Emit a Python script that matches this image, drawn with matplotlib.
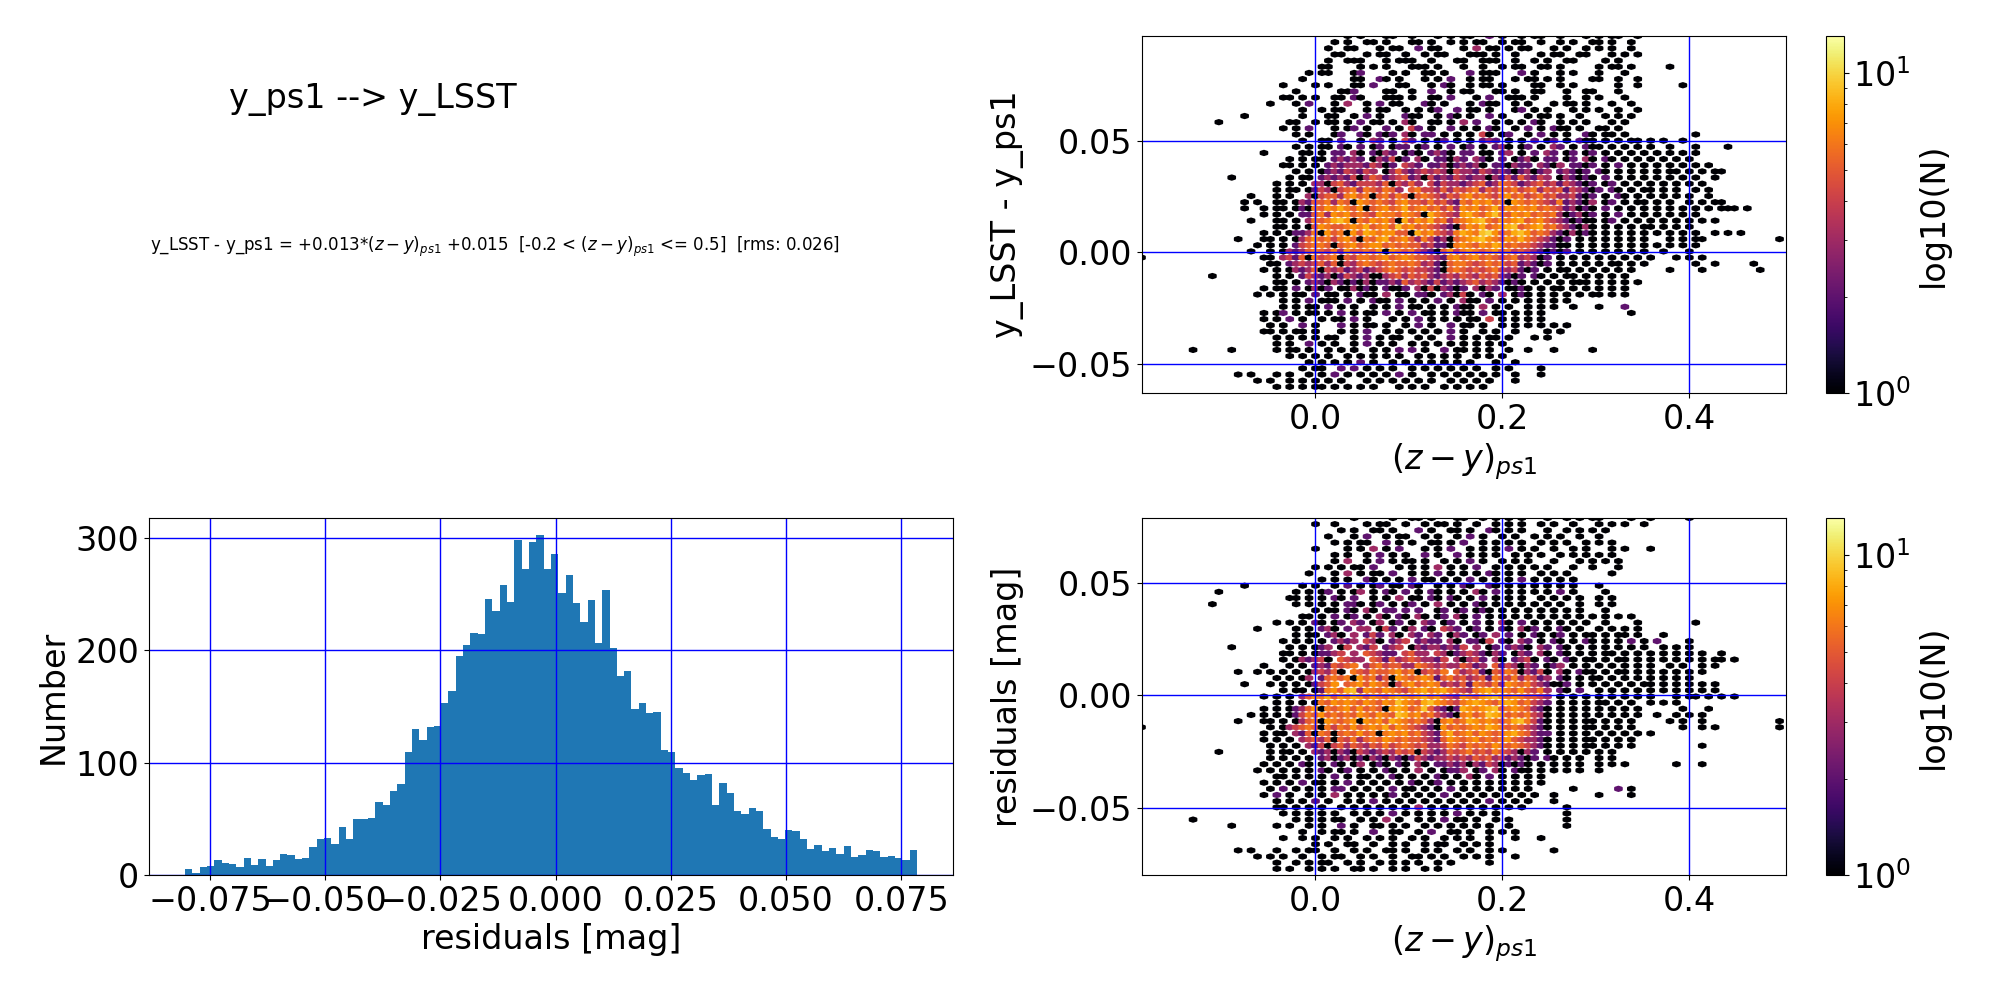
import numpy as np
import matplotlib
matplotlib.use('Agg')
import matplotlib.pyplot as plt

# histogram of residuals
hist_counts = [5, 2, 7, 8, 13, 11, 10, 7, 15, 9, 14, 8, 13, 19, 18, 14, 15, 25, 32, 33,
               28, 43, 32, 50, 50, 51, 65, 62, 75, 81, 110, 130, 120, 132, 133, 153, 164, 195, 205, 216,
               215, 246, 235, 258, 243, 298, 273, 297, 303, 273, 286, 251, 267, 242, 225, 245, 207, 254, 202, 177,
               182, 148, 153, 144, 145, 111, 110, 95, 91, 85, 89, 90, 62, 82, 73, 57, 54, 60, 57, 41,
               34, 32, 40, 39, 32, 23, 27, 21, 24, 19, 26, 16, 18, 22, 21, 16, 17, 15, 13, 22]
hist_lo, hist_hi = -0.0804, 0.0784

# hex cells as estimated by eye, one string per lattice row from the top, blocks of ten columns,
# '.' is empty, hex digit is N
top_rows = [
    ".......... .......... .......... ..1.1...11 ..1...1.1. 11..2.1..1 .11..1...1 .1.11..1..",
    ".......... .......... .......... 1.1..11.1. ..11.1..1. 1.11..1.11 ..1..1.1.. 11.1..1...",
    ".......... .......... .........1 ..11...1.1 1..2.11... 1.3.11.1.1 1...1.1..1 .1.1..1...",
    ".......... .......... .......... 11...1.11. .1..1.11.. .111.1..1. ..1.11..11 ...1.1.1..",
    ".......... .......... .........1 ..111...1. 111..1...1 1..111..1. .1.1..11.. ..1.1.....",
    ".......... .......... ........11 ....1.1.1. ..111.1... 1..1..1.11 ..11.1.... .1.11.1... ..1",
    ".......... .......... ......1.11 ...12....1 .1..11.1.. .2.111...2 .1...1.1.. .1...1....",
    ".......... .......... .....1.... ...11..21. 1...1.1.2. .1.11...1. 11.1.1.... 11..1..1..",
    ".......... .......... ..1....1.1 ...11.2... 11...1.21. .1.11.1... .11..1.1.. ....1..1.. ....1",
    ".......... .......... ....1..... .112....11 ..1..2..1. 11...11.1. .11...1..1 1...1.....",
    ".......... .......... ..11.1.1.. 11.21...11 1.1..11.2. ..1.2..111 .1....1..1 .1...1....",
    ".......... .......... 1...1.2... 1.3..1.2.1 1...21.1.. .1.211..1. 1...1.11.1 ...1..1...",
    ".......... .......... .....1..1. 11...1.11. .1.1.12..2 .11.1...12 .1.1...1.1 .1..1..1..",
    ".......... ......1... .....1...1 1..1.2.1.. .211..1.21 .1..2.1... 1.11.1..1. ..1.1.1...",
    ".......... ..1....... ...11..1.1 1.1.2.11.1 .31..11.1. 3.2..1.1.1 .21..1.1.1 ...1.1....",
    ".......... .......... ..1.1.2... 1.12.1..2. 1.42.1..2. 1.1.21..1. 2.1.211.1. .11.1.....",
    ".......... .......... ....1.1... 12..21.212 .31.22.1.1 .1.41.12.. 1.2.1.1..2 1.11.1.... ......1",
    ".......... .......... .....1..11 .2..1.32.1 .42.1.12.1 .1.232.1.1 .2.12.1.21 1.1.1.11.1 .1..1.....",
    ".......... .......... ....1.1.11 .21.2.12.1 22.12.1.2. 12.1.231.1 2.1.32.1.2 11.1.1.1.1 ..1...1... .1",
    ".......... .........1 .....11.1. 22.31.2132 .121.2321. 22.11.23.1 .2.32.12.1 2.1.1.1.1. 1.1.1.1...",
    ".......... .......... ...1.1.11. 23232.1324 12.31.2213 2.321.2.12 31.22.12.3 1.21.1.1.1 .1.1.1....",
    ".......... .......... ..11.1.1.2 3233324312 .432.22312 3231.22132 2.3213.221 2.1.2.1.1. 1.1.1.1.1.",
    ".......... .......... ....1.1.12 3243243.13 5323434314 3324323212 3123.23212 .21.1.1.1. 1.11.1.1.1 1",
    ".......... ....1..... ...1.11.23 2324135423 4523142324 3233132425 3243.13212 1.2.1.1.1. 1.1.1.1..1",
    ".......... .......... .1.1.1.331 4532444351 4353.42433 2345236542 3453424321 2.12.1.1.1 .1.1.1.1..",
    ".......... .......... .1.11.1243 1456365465 3.56443535 4563546564 5635452432 12.21.1.11 .1.1..1.1.",
    ".......... .......1.. .1.1..3145 5367561564 6515654354 6756546756 4564533421 2.1.21.1.1 .1.1.1..1.",
    ".......... ......1.1. .11.132556 3651765654 6755464532 6576756176 5654362321 3.12.1.11. 1.1..1.1.1 1",
    ".......... ......1..1 .11.121657 6865715675 6856756463 7675685767 6756542312 1.2.1.1.1. 1.1.1.1.1. 111.1",
    ".......... .........1 .1.1.22563 7675654766 5765186543 7865796576 7565631231 2.1.2.1.1. 1.1.1.1...",
    ".......... .......1.. .11.1.3656 8971657675 1857685635 6789657678 5675432121 1.12.1.1.1 .1.1.1.1.1",
    ".......... .......... .11.1.1576 5567685675 9675654321 5768567895 6785643213 1.1.1.1.11 .1.1.1....",
    ".......... .........1 .1.1223617 5617587677 5518675436 8769a75689 7565321312 1.1.1.1.1. 1.1.1.1..1 .1.1",
    ".......... .....1...1 1.1.135756 4675165785 6753642315 6789765768 6543212.1. 1.1.1.1.1. ..1.1.11.. .........1",
    ".......... ........1. 1.1.245665 1567567756 5655342216 7657687565 5432211.1. 1.1.1.1.1. 1.1.1.1...",
    ".......... .......1.. 1.13235654 6375565717 6564321574 6765675645 4321212.1. 1.1.1.1.1. .1...1....",
    "1......... .........1 1.34251645 6154665675 6765543267 5675654563 4312.1.1.1 .1.1.1.1.1 ...1.1.1..",
    ".......... .......... 11.2343453 5143565456 5565342156 6545656452 3212.1.1.1 .1.11.1.1. ......1..1 .....1",
    ".......... .........1 .1.1323514 3423423456 5454432156 5454564342 12.1.11.1. 1.1.1.1... ..1....1.. ......1",
    ".......... .1........ .1.1.24323 1243231134 5354532343 5435453212 .21.1.11.1 .1.1.1....",
    ".......... .......... .11.1.2321 3212131223 2534324232 3453432121 .1.1.1.111 .1.1.1.1..",
    ".......... .........1 .11.2.1312 .113121.21 12.3141321 2.3132.112 1.1.11.1.1 .1.1.1....",
    ".......... ........1. 1.1.11.2.1 1.1.211.3. 11.221.231 41.21.3.12 1.1.1.1.1. 11.1.1....",
    ".......... .......... ..1.1.2.11 1.2.1.211. 2.1.1.2.1. 311.2.1.1. 1.1.1.1...",
    ".......... .......... ..1.1.11.2 .1.1..1.1. 2.11.1.1.2 11.3.1.1.. 1.1.1..1.. .1...2....",
    ".......... .........1 .12.1.11.1 .2.1.11.2. 1.2.11.1.2 11.2.11.1. 1.1....... ......1...",
    ".......... .........1 .1.2.1..1. 11.2.1...1 .1.2.1.1.1 .11.4.1.1. 1.1.......",
    ".......... .......... 1.1..2.1.. .2.1.11.1. .1.2.1..2. 11.1..1.1. 1.1.1.1...",
    ".......... .........1 1.1.11.1.. .1.1.2..1. 1.1.1.1.2. 1..1.1..1. ...1.1....",
    ".......... .......... .1.1.1.1.1 1..1.2.1.1 1..1.1..2. 1.1.11.1.. .1.1......",
    ".......... .......... .1.1..2.1. 1..1.2.1.1 ..1.1.1.1. 1.1.1.1...",
    "........1. ....1..... .1.11.1..1 .1.1..1.1. 2.2.1..2.1 1.1.1..1.. 1...1..... 1",
    ".......... .......... ...1.1.1.1 ..1.1.1.1. 1..1.1.1.1 ..1.1.1...",
    ".......... .......... ......1.1. 1.1.2.1..1 .1.1.1.1.1 .1...1..1.",
    ".......... .......... .....1.11. .2.2.1.1.1 ..1.1.1.1. 1.1..1.1.. ..1.......",
    ".......... .....1.1.. .1.1..1.1. 2.1.1.1.1. 2.1..1.1.1 .1.1.1..1. ..1.......",
    ".......... ........1. 1..1.1.1.1 .1...1.1.1 .1.1.1..1. 1.1.1...1.",
    ".......... .......... .1.1.1.11. 1.1.1.1... 1.1.1..1.1 .1.1......",
]
bot_rows = [
    ".......... .......... .......... ...1.....1 ..11.1...1 1..1.1.1.1 ...1..1.1. 11....1..1 .....1",
    ".......... .......... .......1.. 1....1.11. .1..1.11.1 ..1..1.1.1 ..1.1..1.. .1.1.1..1.",
    ".......... .......... .......... .1.1..11.1 ...2.1..11 .1..21.1.1 ...1..1.1. 1.1.......",
    ".......... .......... .........1 ...1.2..1. 11..1.1..1 .2.1..1.1. .1.1.1..1. .1........",
    ".......... .......... .......... 1.1.11..2. 1.1..11.1. 2..1.1.1.1 ..1.1.1..1 .1.1......",
    ".......... .......... .......1.. ..1.1.3.1. 2...1.1.2. .1.1.1.2.1 .1..1..1.1 ...1.1...1",
    ".......... .......... .......... 1.1..1.2.1 .1..2.1..2 .1.1.1..1. 1.1..1.1.1 .1.1......",
    ".......... .......... .......... 1.3..1.2.1 .11.1..1.1 .2.1..1.1. 1...1...1. 1.1.1.....",
    ".......... .......... .......1.1 .1.11.2... 1.1.1.3.1. 1.2..1.1.1 .1.1...1.. 1...1.....",
    ".......... .......... ......1... 1.3.1.11.2 ..1.1.2.1. 1.1.21.1.1 ..1.1.1... ...1......",
    ".......... .......... ........1. 1.1..21.1. 1.2.11.1.1 .2.1.1.1.2 .1.1.1.1..",
    ".......... ......1... .....1.1.. 1.2.1.12.1 1.21..1.1. 21..21.1.1 .1.1.1.1.. .1........",
    ".......... ..1....... ....1.1.12 .1.13.1.21 .2.1.21.1. 1.31.2.1.1 .1.1.2.1.. ..1.......",
    ".......... .......... ...11.1.1. 21.2..1.1. 3.11.21.21 .1.2.1.1.1 ..1.1.1.1. .1.1......",
    ".......... .1........ ....1.1.1. 1.221.12.1 .12.1.3.1. 1.21.1.1.1 .1.1.1..1. .1.1......",
    ".......... .......... .......1.1 1.21.31.22 .2.2..12.1 2.121.1.1. 1.1.1.1.1. ..1.......",
    ".......... .......... .....11.1. 2.12.1.31. 21.31.12.3 1.2.1.1.1. 1.1.1.1.1. 1.1.1.1...",
    ".......... .......... .1.1.1.21. 12.32.13.1 2.1.32.12. 1.2.1.31.2 .1.1.1.1.1 ..1....1.. ......1",
    ".......... ........1. ....1.1.23 1.2.33.142 .13.21.432 .12.1.21.3 12.1.21.1. .1.1.1.1..",
    ".......... .......... ....1.11.2 31.3.242.3 1.32.32.13 2.12.3.2.1 .21.12.1.1 1.1.11.1.. .1",
    ".......... .......... ..1.1.1.1. 2323.431.2 34.2322.31 .2214.21.3 2.1.21.1.2 1.1.1.2.1. 2....1....",
    ".......... ....1..... ...1.1.123 .14.324.23 4.13233232 4.3.12.232 1.32.21.1. 1.1.1.1.1. .1.1.1....",
    ".......... .......... ..11.1.122 34.3.54322 .4533.4312 3432132.13 2.31.21.1. 1.11.1.1.1 .1.1.1.1.. 1",
    ".......... .......... ..1.132341 .5433.5425 34543324.3 1342.31.23 41.21.21.1 1.1.11.1.1 .1.1.1.1.1 1.1",
    ".......... .........1 ...1.1.232 5456.35645 5336543433 5423.52431 32.123.1.1 .1.1.1.1.1 ..1.1..1.1",
    ".......... .....1..1. 1.1.1.1343 51.6546556 75614546.5 3452154651 3241.31.21 1.1.11.1.1 .1.1.1.1..",
    ".......... .......... .1.1.13.25 6561756351 7656762564 5345265463 5423.21.1. 11.1.1.1.1 .1.1.1....",
    ".......... ......1... 1.1.1.1245 7.56757651 4675676343 5265463765 6432112.1. 1.1.1.1.11 .1.1.1.1.1",
    ".......... .......... ..1.11.126 7589376576 5467867865 4367867657 5463.21.2. .1.1.1.1.1 .1.1.1.1.1",
    ".......... .........1 .1.1.35768 5768757657 8767867543 7657897676 5543.1.1.1 .1.1.1.1.1 ...1.11.1. 1.1",
    ".......... .......... .1.1.1.165 7676576576 9765897654 6787657875 6432.1.1.1 .11.1.1..1 .1.1......",
    ".......... .........1 .1.1235716 5675756517 8756953212 8767895676 5321.1.1.1 .1.1.1.1.. ....1...1.",
    ".......... .......1.1 .1.1246575 6565765765 9867564321 6756987565 6431.1.1.1 .1.1.1.1.. 1..1.1.1..",
    ".......... .....1...1 1.1.135617 6567176758 7656531675 6876765689 6421.1.1.1 1.1.1.1... ..1.1..1.. .........1",
    "1......... .......... 1.13456516 4657567685 7654321756 5676876565 4321.1.1.1 1.1.1.1... ....1..1.1 .........1",
    ".......... .........1 .11.325165 1565756167 6756432685 6757656786 5322.1.1.1 .1.1.1.1.1",
    ".......... .........1 .1.1.34535 1546356576 5655432576 5675656754 3321.1.1.1 1.1.1.1...",
    ".......... .......... 1.1.1.3241 4535435464 5654533465 4656576565 4321.1.1.1 1.1.1.1... .......1..",
    ".......... ..1....... 1.11.1.323 1321432343 5451432354 5645465431 32.1.1.1.1 .1.1...... ..........",
    ".......... .......... 1.1.1.1.23 1231213213 2124323343 4354534232 12.21.1.1. .1.1......",
    ".......... .........1 .1.1.21.1. 21.13.121. 21.31.2232 3132431212 1.1.1.1.1. .1.1.1.... ...1...1..",
    ".......... ........1. 1.1.1.1.21 .12.1.1.21 .1.3.1.122 3.12.31.21 1.1.1.1.1. .1........",
    ".......... .......... .11.1.1.1. 2.1.11.1.2 1.1.1.21.1 .31.2.1.1. 1.1.......",
    ".......... .........1 .1.1.2.11. 1.2.1.1.1. 1.21.12.1. 1.1.1.1.1. 1.1.......",
    ".......... .......... 1.2.1.1.1. 22.1.1.1.2 .11.1.1.2. 1.1.1.1.1. 1......1.. ....2.1...",
    ".......... .........1 .2.1..1.1. 3.1.1.1.12 .1.1.1.2.1 .1.1.1.1.1 .1..1..... .1....1...",
    ".......... .......... .1.1.1.2.1 ..1.1.2.1. 1.1.1.1.1. 1.1.2.1.1. 1...1.....",
    ".......... .......... .11.1.1.1. .1.1.1.1.1 .1.3.1.1.1 .1.1.1.1.1 ......1...",
    ".......... .......... ..1.1.1.1. 1..1.1.1.2 .1.1.1.1.2 .1.1.1.... ......1...",
    "........1. .......... ....1.1.1. 11..1.1.3. 1..1.1.2.1 1.1..1.1.. ......1...",
    ".......... ....1..... .1.1..1.1. .2.1..11.1 .1..1.1.1. 1.1.1..1.. ......1...",
    ".......... .......... .....1..1. 11.1..2..1 1..1.2..11 .1..1.1.1.",
    ".......... .......... ..1..1.1.. 1.1..1.1.1 ..1.1..1.1 .1..1...1. ..1.......",
    ".......... .......... .......1.1 ..11..1..1 .1..1.11.. 1.1.1...",
    ".......... .....1.1.. .1..1.11.. 1..1.1..11 .1..1.1..1 .1..1.1... ....1.....",
    ".......... ........1. 1.1..1..1. 11..1.1..1 ..11.1.1.. 1.1.1...1.",
    ".......... .......... .1..1.1.11 ..1.1..1.1 .1.1..1.1. ....1.....",
    ".......... .......... .1.1..1.1. 1..11.1..1 .1..1.1...",
]

x_lim = (-0.186, 0.5034)
top_ylim = (-0.0631, 0.0970)
bot_ylim = (-0.0799, 0.0788)
n_max = 13.08
GRID_NX, GRID_NY = 100, 58


def cells(rows, ylim):
    # turn the strings into points on the hexbin lattice
    sx = (x_lim[1] - x_lim[0]) / GRID_NX
    sy = (ylim[1] - ylim[0]) / GRID_NY
    xs, ys, ns = [], [], []
    for r, row in enumerate(rows):
        for j, ch in enumerate(row.replace(' ', '')):
            if ch == '.':
                continue
            xs.append(x_lim[0] + j * sx)
            ys.append(ylim[1] - r * sy)
            ns.append(int(ch, 16))
    return np.array(xs), np.array(ys), np.array(ns)


def px_axes(fig, left, top, right, bottom):
    return fig.add_axes([left / 2000, 1 - bottom / 1000, (right - left) / 2000, (bottom - top) / 1000])


def hex_panel(fig, rows, ylim, top, bottom, ylabel):
    ax = px_axes(fig, 1141.5, top, 1786, bottom)
    x, y, n = cells(rows, ylim)
    h = ax.hexbin(x, y, C=n, gridsize=(GRID_NX, GRID_NY), extent=(*x_lim, *ylim), bins='log',
                  cmap='inferno', vmin=1, vmax=n_max, linewidths=1.6)
    ax.set_xlim(x_lim)
    ax.set_ylim(ylim)
    ax.set_xticks([0.0, 0.2, 0.4])
    ax.set_yticks([-0.05, 0.0, 0.05])
    ax.set_xlabel('$(z-y)_{ps1}$')
    ax.set_ylabel(ylabel)
    ax.grid(color='blue', linewidth=1.0)
    cax = px_axes(fig, 1825.5, top, 1843.5, bottom)
    fig.colorbar(h, cax=cax, label='log10(N)')
    return ax


plt.rcParams['font.size'] = 24
fig = plt.figure(figsize=(20, 10), dpi=100)

fig.text(372.5 / 2000, 1 - 99 / 1000, 'y_ps1 --> y_LSST', fontsize=24, ha='center', va='center')
fig.text(495 / 2000, 1 - 247 / 1000,
         'y_LSST - y_ps1 = +0.013*$(z-y)_{ps1}$ +0.015  [-0.2 < $(z-y)_{ps1}$ <= 0.5]  [rms: 0.026]',
         fontsize=12, ha='center', va='center')

hex_panel(fig, top_rows, top_ylim, 36, 393, 'y_LSST - y_ps1')
hex_panel(fig, bot_rows, bot_ylim, 518, 875, 'residuals [mag]')

ax = px_axes(fig, 148.6, 518, 953.3, 875)
edges = np.linspace(hist_lo, hist_hi, len(hist_counts) + 1)
centres = (edges[:-1] + edges[1:]) / 2
ax.hist(centres, bins=edges, weights=hist_counts)
ax.set_xlim(-0.0883, 0.0863)
ax.set_ylim(0, 318)
ax.set_xticks([-0.075, -0.05, -0.025, 0.0, 0.025, 0.05, 0.075])
ax.set_yticks([0, 100, 200, 300])
ax.set_xlabel('residuals [mag]')
ax.set_ylabel('Number')
ax.grid(color='blue', linewidth=1.0)

fig.savefig('out.png', dpi=100)
